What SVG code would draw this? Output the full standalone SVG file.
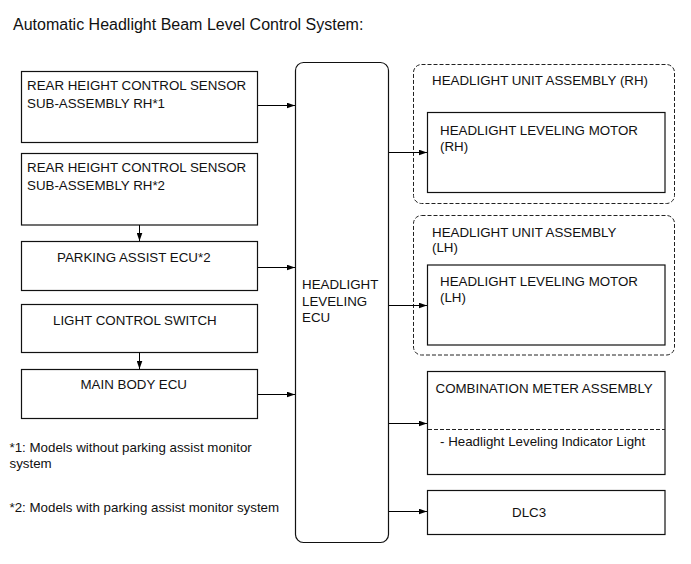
<svg xmlns="http://www.w3.org/2000/svg" width="691" height="564" viewBox="0 0 691 564">
<defs>
<marker id="arr" markerUnits="userSpaceOnUse" markerWidth="8" markerHeight="6" refX="8" refY="3" orient="auto">
<path d="M0,0.2 L8,3 L0,5.8 z" fill="#000"/>
</marker>
<style>
text{font-family:"Liberation Sans",Arial,sans-serif;font-size:13.33px;fill:#111}
.title{font-size:16px}
.box{fill:#fff;stroke:#111;stroke-width:1.2}
.dash{fill:none;stroke:#222;stroke-width:1;stroke-dasharray:4 2}
.conn{stroke:#000;stroke-width:1;fill:none;marker-end:url(#arr)}
</style>
</defs>
<rect width="691" height="564" fill="#fff"/>
<text class="title" x="13" y="29.5">Automatic Headlight Beam Level Control System:</text>

<g id="rear-sensor-1">
<rect class="box" x="21.5" y="71.5" width="236" height="71"/>
<text x="27" y="89.5">REAR HEIGHT CONTROL SENSOR</text>
<text x="27" y="107.5">SUB-ASSEMBLY RH*1</text>
</g>
<g id="rear-sensor-2">
<rect class="box" x="21.5" y="153.5" width="236" height="71.5"/>
<text x="27" y="171.5">REAR HEIGHT CONTROL SENSOR</text>
<text x="27" y="189.5">SUB-ASSEMBLY RH*2</text>
</g>
<g id="parking-assist-ecu">
<rect class="box" x="21.5" y="241.5" width="236" height="49"/>
<text x="57" y="261.5">PARKING ASSIST ECU*2</text>
</g>
<g id="light-control-switch">
<rect class="box" x="21.5" y="304.5" width="236" height="48"/>
<text x="53" y="324.5">LIGHT CONTROL SWITCH</text>
</g>
<g id="main-body-ecu">
<rect class="box" x="21.5" y="369.5" width="236" height="49"/>
<text x="80.5" y="388.5">MAIN BODY ECU</text>
</g>

<g id="notes">
<text x="9.5" y="451.5">*1: Models without parking assist monitor</text>
<text x="9.5" y="467.5">system</text>
<text x="9.5" y="512">*2: Models with parking assist monitor system</text>
</g>

<g id="headlight-leveling-ecu">
<rect class="box" x="295.5" y="62.5" width="93" height="480" rx="8" ry="8"/>
<text x="302" y="289">HEADLIGHT</text>
<text x="302" y="305.5">LEVELING</text>
<text x="302" y="322">ECU</text>
</g>

<g id="headlight-unit-rh">
<rect class="dash" x="413.5" y="64.5" width="261" height="139" rx="8" ry="8"/>
<text x="432" y="84.5">HEADLIGHT UNIT ASSEMBLY (RH)</text>
<g id="leveling-motor-rh">
<rect class="box" x="427.5" y="112.5" width="237.5" height="80"/>
<text x="440" y="135">HEADLIGHT LEVELING MOTOR</text>
<text x="440" y="150.5">(RH)</text>
</g>
</g>

<g id="headlight-unit-lh">
<rect class="dash" x="413.5" y="215.5" width="261" height="139.5" rx="8" ry="8"/>
<text x="432" y="236.5">HEADLIGHT UNIT ASSEMBLY</text>
<text x="432" y="252">(LH)</text>
<g id="leveling-motor-lh">
<rect class="box" x="427.5" y="265" width="237.5" height="80"/>
<text x="440" y="286">HEADLIGHT LEVELING MOTOR</text>
<text x="440" y="301.5">(LH)</text>
</g>
</g>

<g id="combination-meter">
<rect class="box" x="427.5" y="371.5" width="237.5" height="103"/>
<line x1="428" y1="429.5" x2="665" y2="429.5" stroke="#222" stroke-width="1" stroke-dasharray="4 2"/>
<text x="435.5" y="392.5">COMBINATION METER ASSEMBLY</text>
<text x="440" y="446">- Headlight Leveling Indicator Light</text>
</g>

<g id="dlc3">
<rect class="box" x="427.5" y="490.5" width="237.5" height="44"/>
<text x="512" y="516.5">DLC3</text>
</g>

<g id="connectors">
<line class="conn" x1="258" y1="105.5" x2="295" y2="105.5"/>
<line class="conn" x1="139.5" y1="225" x2="139.5" y2="241"/>
<line class="conn" x1="258" y1="267.5" x2="295" y2="267.5"/>
<line class="conn" x1="139.5" y1="352.5" x2="139.5" y2="369"/>
<line class="conn" x1="258" y1="394.5" x2="295" y2="394.5"/>
<line class="conn" x1="389" y1="152.5" x2="427" y2="152.5"/>
<line class="conn" x1="389" y1="305.5" x2="427" y2="305.5"/>
<line class="conn" x1="389" y1="423.5" x2="427" y2="423.5"/>
<line class="conn" x1="389" y1="511.5" x2="427" y2="511.5"/>
</g>
</svg>
